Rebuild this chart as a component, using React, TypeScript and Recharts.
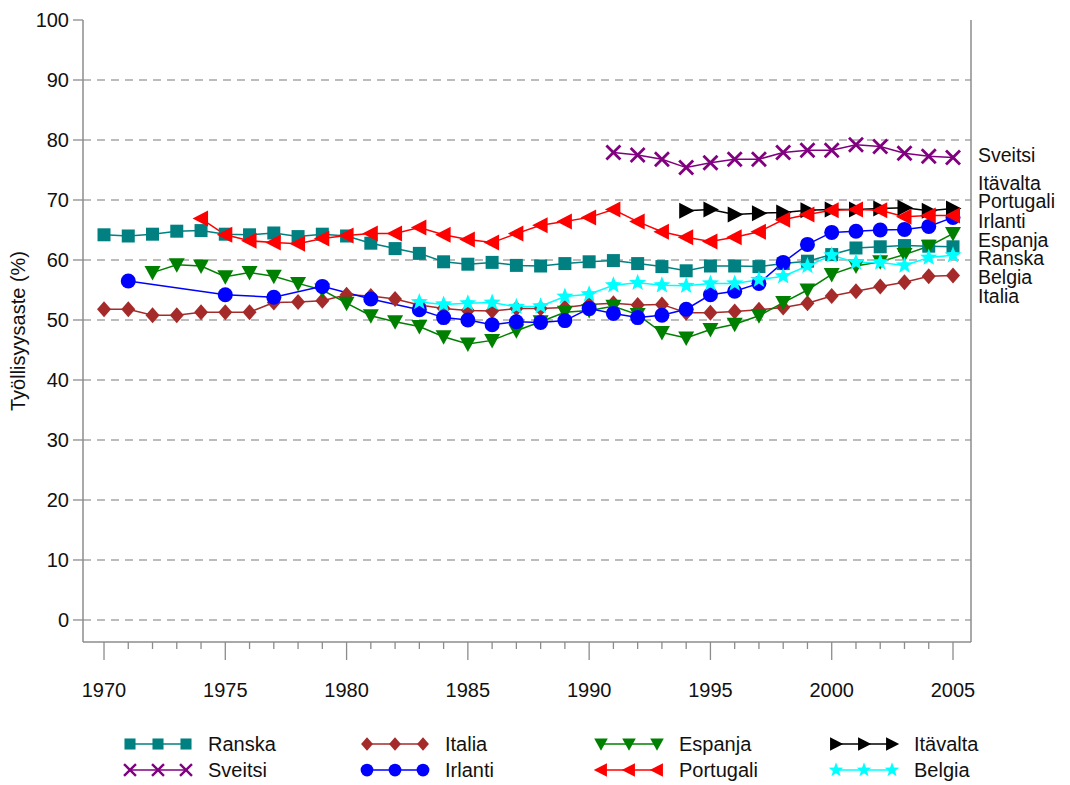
import React from 'react';
import { LineChart, Line, XAxis, YAxis, ReferenceLine } from 'recharts';

// employment rate (%) by country, 1970-2005
const years = [
  1970, 1971, 1972, 1973, 1974, 1975, 1976, 1977, 1978, 1979,
  1980, 1981, 1982, 1983, 1984, 1985, 1986, 1987, 1988, 1989,
  1990, 1991, 1992, 1993, 1994, 1995, 1996, 1997, 1998, 1999,
  2000, 2001, 2002, 2003, 2004, 2005,
];

const ranska = [
  64.2, 64.0, 64.3, 64.8, 64.9, 64.3, 64.2, 64.5, 63.9, 64.3,
  64.0, 62.8, 61.9, 61.1, 59.7, 59.3, 59.6, 59.1, 59.0, 59.4,
  59.7, 59.9, 59.4, 58.9, 58.2, 59.0, 59.0, 58.9, 59.4, 59.8,
  60.9, 62.0, 62.2, 62.4, 62.3, 62.2,
];
const italia = [
  51.8, 51.8, 50.8, 50.8, 51.3, 51.3, 51.3, 52.9, 53.0, 53.2,
  54.2, 54.0, 53.5, 52.5, 51.9, 51.6, 51.5, 51.9, 51.9, 52.1,
  52.6, 52.8, 52.5, 52.6, 51.2, 51.2, 51.4, 51.7, 52.1, 52.8,
  54.0, 54.8, 55.6, 56.3, 57.3, 57.4,
];
const espanja = [
  null, null, 57.9, 59.2, 59.0, 57.2, 57.9, 57.3, 56.1, 55.0,
  52.8, 50.7, 49.7, 48.9, 47.2, 46.0, 46.6, 48.2, 49.7, 51.3,
  51.6, 52.3, 50.9, 47.9, 47.0, 48.4, 49.3, 50.7, 52.9, 55.0,
  57.6, 59.0, 59.7, 60.9, 62.3, 64.4,
];
const irlanti = [
  null, 56.5, null, null, null, 54.2, null, 53.8, null, 55.6,
  null, 53.5, null, 51.7, 50.4, 50.0, 49.2, 49.7, 49.6, 49.9,
  51.9, 51.1, 50.4, 50.8, 51.8, 54.2, 54.8, 56.1, 59.6, 62.6,
  64.6, 64.8, 65.0, 65.1, 65.6, 67.1,
];
const belgia = [
  null, null, null, null, null, null, null, null, null, null,
  null, null, null, 53.0, 52.6, 52.8, 52.9, 52.2, 52.3, 53.9,
  54.3, 55.8, 56.2, 55.8, 55.7, 56.1, 56.1, 56.7, 57.3, 59.0,
  60.8, 59.6, 59.6, 59.1, 60.4, 60.8,
];
const sveitsi = [
  null, null, null, null, null, null, null, null, null, null,
  null, null, null, null, null, null, null, null, null, null,
  null, 77.9, 77.5, 76.8, 75.4, 76.2, 76.8, 76.8, 77.9, 78.3,
  78.3, 79.2, 78.9, 77.8, 77.3, 77.1,
];
const itavalta = [
  null, null, null, null, null, null, null, null, null, null,
  null, null, null, null, null, null, null, null, null, null,
  null, null, null, null, 68.2, 68.4, 67.6, 67.8, 67.9, 68.3,
  68.4, 68.4, 68.6, 68.7, 68.2, 68.6,
];
const portugali = [
  null, null, null, null, 66.9, 64.2, 63.2, 62.9, 62.7, 63.6,
  64.1, 64.4, 64.4, 65.4, 64.2, 63.4, 62.9, 64.4, 65.8, 66.4,
  67.1, 68.4, 66.4, 64.7, 63.8, 63.1, 63.8, 64.7, 66.7, 67.6,
  68.3, 68.4, 68.3, 67.2, 67.4, 67.4,
];

const yTicks = [0, 10, 20, 30, 40, 50, 60, 70, 80, 90, 100];
const gridValues = [0, 10, 20, 30, 40, 50, 60, 70, 80, 90];
const yTitle = 'Työllisyysaste (%)';

// drawing order (later = on top)
const series = [
  { name: 'Ranska', values: ranska, color: '#008080', shape: 'square' },
  { name: 'Italia', values: italia, color: '#A52A2A', shape: 'diamond' },
  { name: 'Espanja', values: espanja, color: '#008000', shape: 'down' },
  { name: 'Irlanti', values: irlanti, color: '#0000FF', shape: 'circle' },
  { name: 'Belgia', values: belgia, color: '#00FFFF', shape: 'star' },
  { name: 'Sveitsi', values: sveitsi, color: '#800080', shape: 'x' },
  { name: 'Itävalta', values: itavalta, color: '#000000', shape: 'right' },
  { name: 'Portugali', values: portugali, color: '#FF0000', shape: 'left' },
];

// legend columns, top row then bottom row
const legendColumns = [
  ['Ranska', 'Sveitsi'],
  ['Italia', 'Irlanti'],
  ['Espanja', 'Portugali'],
  ['Itävalta', 'Belgia'],
];

// labels at right edge, top to bottom
const endLabels = ['Sveitsi', 'Itävalta', 'Portugali', 'Irlanti', 'Espanja', 'Ranska', 'Belgia', 'Italia'];
const endLabelCenters = [155, 183, 201, 221, 240, 258, 277, 296];

const X_MIN = 1969.134;
const X_MAX = 2005.742;
const FONT = "'Liberation Sans', Arial, sans-serif";
const AXIS = '#8c8c8c';

const chartData = years.map((year, i) => {
  const row: Record<string, number | null> = { year };
  series.forEach((s) => {
    row[s.name] = s.values[i];
  });
  return row;
});

function starPoints(cx: number, cy: number, ro: number, ri: number) {
  const pts: string[] = [];
  for (let k = 0; k < 10; k++) {
    const r = k % 2 === 0 ? ro : ri;
    const a = -Math.PI / 2 + (k * Math.PI) / 5;
    pts.push(`${cx + r * Math.cos(a)},${cy + r * Math.sin(a)}`);
  }
  return pts.join(' ');
}

function Marker({ shape, cx, cy, color, s = 1 }: { shape: string; cx: number; cy: number; color: string; s?: number }) {
  switch (shape) {
    case 'square':
      return <rect x={cx - 6.5 * s} y={cy - 6.5 * s} width={13 * s} height={13 * s} fill={color} />;
    case 'diamond':
      return (
        <polygon
          points={`${cx},${cy - 8 * s} ${cx + 7 * s},${cy} ${cx},${cy + 8 * s} ${cx - 7 * s},${cy}`}
          fill={color}
        />
      );
    case 'circle':
      return <circle cx={cx} cy={cy} r={7.5 * s} fill={color} />;
    case 'down':
      return (
        <polygon
          points={`${cx - 8 * s},${cy - 6.5 * s} ${cx + 8 * s},${cy - 6.5 * s} ${cx},${cy + 8 * s}`}
          fill={color}
        />
      );
    case 'left':
      return (
        <polygon
          points={`${cx - 8.5 * s},${cy} ${cx + 7 * s},${cy - 8 * s} ${cx + 7 * s},${cy + 8 * s}`}
          fill={color}
        />
      );
    case 'right':
      return (
        <polygon
          points={`${cx + 8.5 * s},${cy} ${cx - 7 * s},${cy - 8 * s} ${cx - 7 * s},${cy + 8 * s}`}
          fill={color}
        />
      );
    case 'star':
      return <polygon points={starPoints(cx, cy, 9 * s, 3.8 * s)} fill={color} />;
    case 'x':
      return (
        <g stroke={color} strokeWidth={2.8 * s}>
          <line x1={cx - 7 * s} y1={cy - 7 * s} x2={cx + 7 * s} y2={cy + 7 * s} />
          <line x1={cx - 7 * s} y1={cy + 7 * s} x2={cx + 7 * s} y2={cy - 7 * s} />
        </g>
      );
    default:
      return null;
  }
}

const XTick = (props: any) => {
  const { x, y, payload } = props;
  const major = payload.value % 5 === 0;
  return (
    <g>
      <line x1={x} x2={x} y1={y} y2={y + (major ? 18 : 7)} stroke={AXIS} strokeWidth={1.3} />
      {major && (
        <text x={x} y={y + 55} textAnchor="middle" fontSize={20} fill="#111" fontFamily={FONT}>
          {payload.value}
        </text>
      )}
    </g>
  );
};

function ChartLegend() {
  const colX = [130, 367, 601, 836];
  const rowY = [744, 770];
  return (
    <svg width={1070} height={785} style={{ position: 'absolute', left: 0, top: 0, pointerEvents: 'none' }}>
      {legendColumns.map((col, c) =>
        col.map((name, r) => {
          const s = series.find((d) => d.name === name)!;
          const x0 = colX[c];
          const y0 = rowY[r];
          return (
            <g key={name}>
              <line x1={x0} x2={x0 + 56} y1={y0} y2={y0} stroke={s.color} strokeWidth={1.5} />
              {[0, 28, 56].map((dx) => (
                <Marker key={dx} shape={s.shape} cx={x0 + dx} cy={y0} color={s.color} s={0.85} />
              ))}
              <text x={x0 + 78} y={y0 + 7} fontSize={20} fill="#111" fontFamily={FONT}>
                {name}
              </text>
            </g>
          );
        })
      )}
    </svg>
  );
}

export default function App() {
  return (
    <div style={{ position: 'absolute', left: 0, top: 0, width: 1070, height: 785, background: '#fff' }}>
      <LineChart
        width={1070}
        height={785}
        data={chartData}
        margin={{ top: 20, right: 1070 - 971, bottom: 785 - 642 - 30, left: 0 }}
      >
        <XAxis
          dataKey="year"
          type="number"
          domain={[X_MIN, X_MAX]}
          ticks={years}
          interval={0}
          height={30}
          tick={<XTick />}
          tickLine={false}
          tickSize={0}
          tickMargin={0}
          axisLine={{ stroke: AXIS, strokeWidth: 1.5 }}
          allowDataOverflow
        />
        <YAxis
          type="number"
          domain={[-3.67, 100]}
          ticks={yTicks}
          interval={0}
          width={83}
          tickSize={10}
          tickMargin={4}
          tick={{ fontSize: 20, fill: '#111', fontFamily: FONT }}
          tickLine={{ stroke: AXIS, strokeWidth: 1.3 }}
          axisLine={{ stroke: AXIS, strokeWidth: 1.5 }}
          allowDataOverflow
          label={{
            content: () => (
              <text
                x={25}
                y={331}
                transform="rotate(-90 25 331)"
                textAnchor="middle"
                fontSize={20}
                fill="#111"
                fontFamily={FONT}
              >
                {yTitle}
              </text>
            ),
          }}
        />
        {gridValues.map((v) => (
          <ReferenceLine key={v} y={v} stroke="#a6a6a6" strokeWidth={1.5} strokeDasharray="8 6" />
        ))}
        <ReferenceLine x={X_MAX} stroke={AXIS} strokeWidth={1.5} />
        {series.map((s) => (
          <Line
            key={s.name}
            dataKey={s.name}
            stroke={s.color}
            strokeWidth={1.5}
            connectNulls
            isAnimationActive={false}
            activeDot={false}
            dot={(p: any) => {
              const k = `${s.name}-${p.index}`;
              if (p.value == null || p.cx == null || p.cy == null) return <g key={k} />;
              return <Marker key={k} shape={s.shape} cx={p.cx} cy={p.cy} color={s.color} />;
            }}
          />
        ))}
      </LineChart>
      <svg width={1070} height={785} style={{ position: 'absolute', left: 0, top: 0, pointerEvents: 'none' }}>
        {endLabels.map((name, i) => (
          <text key={name} x={978} y={endLabelCenters[i] + 6.5} fontSize={19.5} fill="#111" fontFamily={FONT}>
            {name}
          </text>
        ))}
      </svg>
      <ChartLegend />
    </div>
  );
}
